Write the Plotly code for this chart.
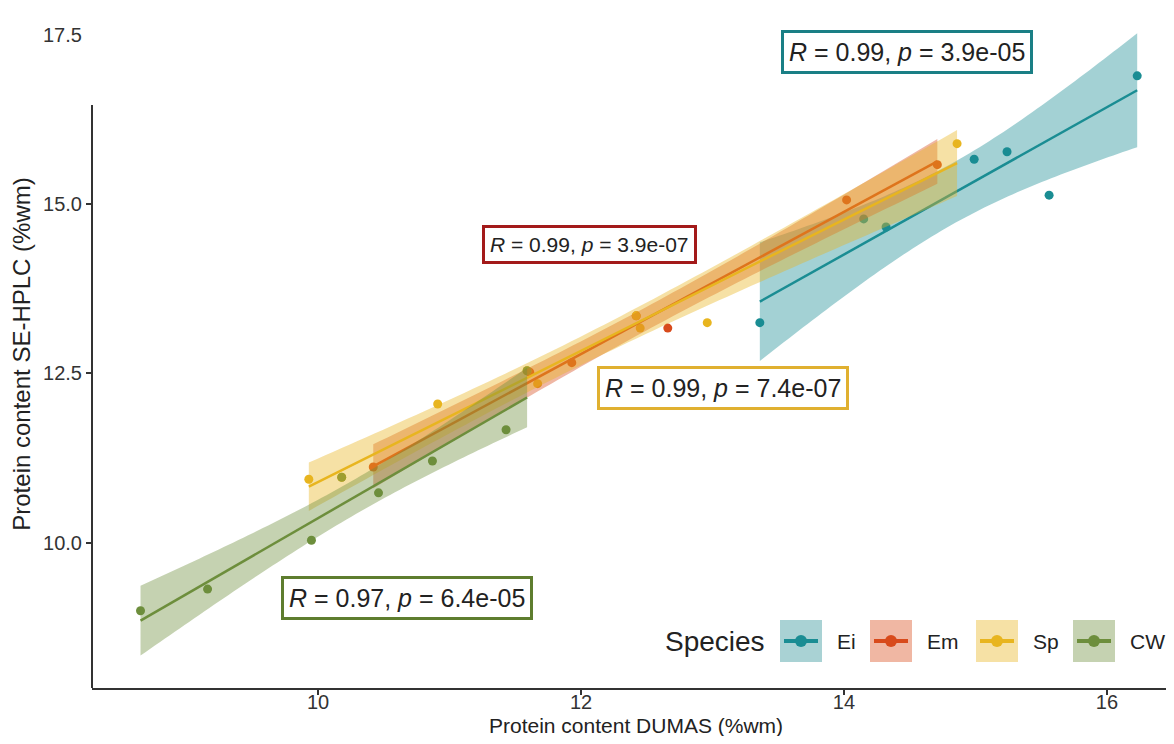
import numpy as np
import plotly.graph_objects as go

# ---------------- data ----------------
species = ["Ei", "Em", "Sp", "CW"]

ei_x = [13.36, 14.15, 14.32, 14.99, 15.24, 15.56, 16.23]
ei_y = [13.25, 14.78, 14.66, 15.66, 15.77, 15.13, 16.89]

em_x = [10.42, 11.61, 11.93, 12.42, 12.66, 14.02, 14.71]
em_y = [11.12, 12.52, 12.66, 13.35, 13.17, 15.06, 15.58]

# includes points hidden under other points (olive-looking overlaps)
sp_x = [9.93, 10.18, 10.91, 11.59, 11.67, 12.42, 12.45, 12.96, 14.86]
sp_y = [10.94, 10.97, 12.05, 12.54, 12.35, 13.35, 13.17, 13.25, 15.89]

cw_x = [8.65, 9.16, 9.95, 10.18, 10.46, 10.87, 11.43, 11.59]
cw_y = [9.00, 9.32, 10.04, 10.97, 10.74, 11.21, 11.67, 12.54]

stat_labels = {
    "Ei": "<i>R</i> = 0.99, <i>p</i> = 3.9e-05",
    "Em": "<i>R</i> = 0.99, <i>p</i> = 3.9e-07",
    "Sp": "<i>R</i> = 0.99, <i>p</i> = 7.4e-07",
    "CW": "<i>R</i> = 0.97, <i>p</i> = 6.4e-05",
}

x_ticks = [10, 12, 14, 16]
y_ticks = [10.0, 12.5, 15.0]
y_ticks_extra = [17.5]

x_title = "Protein content DUMAS (%wm)"
y_title = "Protein content SE-HPLC (%wm)"
legend_title = "Species"

# ---------------- styles ----------------
colors = {"Ei": "#1A8D93", "Em": "#D84A1B", "Sp": "#E8B51F", "CW": "#6D8E3C"}
fills = {"Ei": "rgba(26,141,147,0.40)", "Em": "rgba(216,74,27,0.40)",
         "Sp": "rgba(232,181,31,0.40)", "CW": "rgba(109,142,60,0.40)"}
key_fill = {"Ei": "#A9D2D4", "Em": "#F0B7A3", "Sp": "#F6E1A5", "CW": "#C5D2B1"}
box_border = {"Ei": "#1A7F85", "Em": "#A31A1A", "Sp": "#E0B030", "CW": "#5E7D2E"}
FONT = "Liberation Sans, Arial, sans-serif"

data = {"Ei": (ei_x, ei_y), "Em": (em_x, em_y), "Sp": (sp_x, sp_y), "CW": (cw_x, cw_y)}

T975 = {2: 4.303, 3: 3.182, 4: 2.776, 5: 2.571, 6: 2.447, 7: 2.365, 8: 2.306, 9: 2.262}


def smooth(x, y, n=80):
    x = np.asarray(x, float)
    y = np.asarray(y, float)
    b1, b0 = np.polyfit(x, y, 1)
    res = y - (b0 + b1 * x)
    df = len(x) - 2
    s = np.sqrt(np.sum(res ** 2) / df)
    sxx = np.sum((x - x.mean()) ** 2)
    xs = np.linspace(x.min(), x.max(), n)
    fit = b0 + b1 * xs
    hw = T975[df] * s * np.sqrt(1 / len(x) + (xs - x.mean()) ** 2 / sxx)
    return xs, fit, fit - hw, fit + hw


fig = go.Figure()

# points first (under the ribbons, as in ggplot)
for sp in species:
    xs, ys = data[sp]
    fig.add_trace(go.Scatter(x=xs, y=ys, mode="markers", showlegend=False,
                             marker=dict(color=colors[sp], size=9)))

# ribbons and fitted lines
for sp in species:
    xs, fit, lo, hi = smooth(*data[sp])
    fig.add_trace(go.Scatter(x=np.concatenate([xs, xs[::-1]]),
                             y=np.concatenate([hi, lo[::-1]]),
                             fill="toself", fillcolor=fills[sp], mode="none",
                             showlegend=False, hoverinfo="skip"))
    fig.add_trace(go.Scatter(x=xs, y=fit, mode="lines", showlegend=False,
                             line=dict(color=colors[sp], width=2.5)))

# ---------------- layout ----------------
# the page body adds an 8px margin on every side; keep the figure inside it
OFF = 8
W, H = 1174 - 2 * OFF, 744 - 2 * OFF
PL, PR, PT, PB = 92, 1166, 20, 688          # plot area in page pixels
ML, MR, MT, MB = PL - OFF, W - (PR - OFF), PT - OFF, H - (PB - OFF)
PW, PH = PR - PL, PB - PT


def px(xp):
    return (xp - PL) / PW


def py(yp):
    return (PB - yp) / PH


x_range = [8.281, 16.449]
y_range = [7.861, 17.714]

fig.update_layout(
    width=W, height=H,
    margin=dict(l=ML, r=MR, t=MT, b=MB),
    plot_bgcolor="white", paper_bgcolor="white",
    font=dict(family=FONT, color="#333333"),
    showlegend=False,
    xaxis=dict(range=x_range, tickvals=x_ticks, ticks="outside", ticklen=5,
               tickcolor="#333333", tickwidth=1.5, ticklabelstandoff=-10,
               showline=True, linecolor="#333333", linewidth=2,
               showgrid=False, zeroline=False,
               tickfont=dict(size=20, color="#333333"),
               automargin=False),
    yaxis=dict(range=y_range, tickvals=y_ticks,
               ticktext=[f"{v:.1f}" for v in y_ticks],
               ticks="outside", ticklen=5, tickcolor="#333333", tickwidth=1.5,
               showline=False, showgrid=False, zeroline=False,
               tickfont=dict(size=20, color="#333333"),
               title=dict(text=y_title, standoff=8,
                          font=dict(size=24, color="#222222")),
               automargin=False),
)

shapes = []
# truncated y axis line
shapes.append(dict(type="line", xref="paper", yref="paper", x0=0, x1=0,
                   y0=0, y1=py(105), line=dict(color="#333333", width=2)))

annotations = []
for v in y_ticks_extra:
    annotations.append(dict(xref="paper", yref="y", x=0, y=v, text=f"{v:.1f}",
                            showarrow=False, xanchor="right", yanchor="middle",
                            xshift=-8,
                            font=dict(size=20, color="#333333", family=FONT)))

# x axis title
annotations.append(dict(xref="paper", yref="paper", x=px(636), y=py(725),
                        text=x_title, showarrow=False, xanchor="center",
                        yanchor="middle",
                        font=dict(size=21, color="#222222", family=FONT)))

# statistic boxes
box_pos = {"Ei": (14.479, 17.24, 25), "Em": (12.068, 14.41, 21),
           "Sp": (13.08, 12.29, 25), "CW": (10.677, 9.19, 25)}
for sp in species:
    bx, by, fs = box_pos[sp]
    annotations.append(dict(x=bx, y=by, xref="x", yref="y", text=stat_labels[sp],
                            showarrow=False, bgcolor="white", yanchor="middle",
                            bordercolor=box_border[sp], borderwidth=3, borderpad=5,
                            font=dict(size=fs, color="#222222", family=FONT)))

# manual legend
leg_y0, leg_y1 = 620, 662
yc = (leg_y0 + leg_y1) / 2
annotations.append(dict(xref="paper", yref="paper", x=px(767), y=py(yc),
                        text=legend_title, showarrow=False, xanchor="right",
                        yanchor="middle",
                        font=dict(size=28, color="#222222", family=FONT)))
key_left = {"Ei": 780, "Em": 870, "Sp": 976, "CW": 1073}
for sp in species:
    kx = key_left[sp]
    shapes.append(dict(type="rect", xref="paper", yref="paper",
                       x0=px(kx), x1=px(kx + 42), y0=py(leg_y1), y1=py(leg_y0),
                       fillcolor=key_fill[sp], line=dict(width=0), layer="above"))
    shapes.append(dict(type="line", xref="paper", yref="paper",
                       x0=px(kx + 4), x1=px(kx + 38), y0=py(yc), y1=py(yc),
                       line=dict(color=colors[sp], width=4), layer="above"))
    shapes.append(dict(type="circle", xref="paper", yref="paper",
                       x0=px(kx + 21 - 6), x1=px(kx + 21 + 6),
                       y0=py(yc + 6), y1=py(yc - 6),
                       fillcolor=colors[sp], line=dict(width=0), layer="above"))
    annotations.append(dict(xref="paper", yref="paper", x=px(kx + 55), y=py(yc),
                            text=sp, showarrow=False, xanchor="left",
                            yanchor="middle",
                            font=dict(size=21, color="#222222", family=FONT)))

fig.update_layout(shapes=shapes, annotations=annotations)
fig.write_html("out.html")
